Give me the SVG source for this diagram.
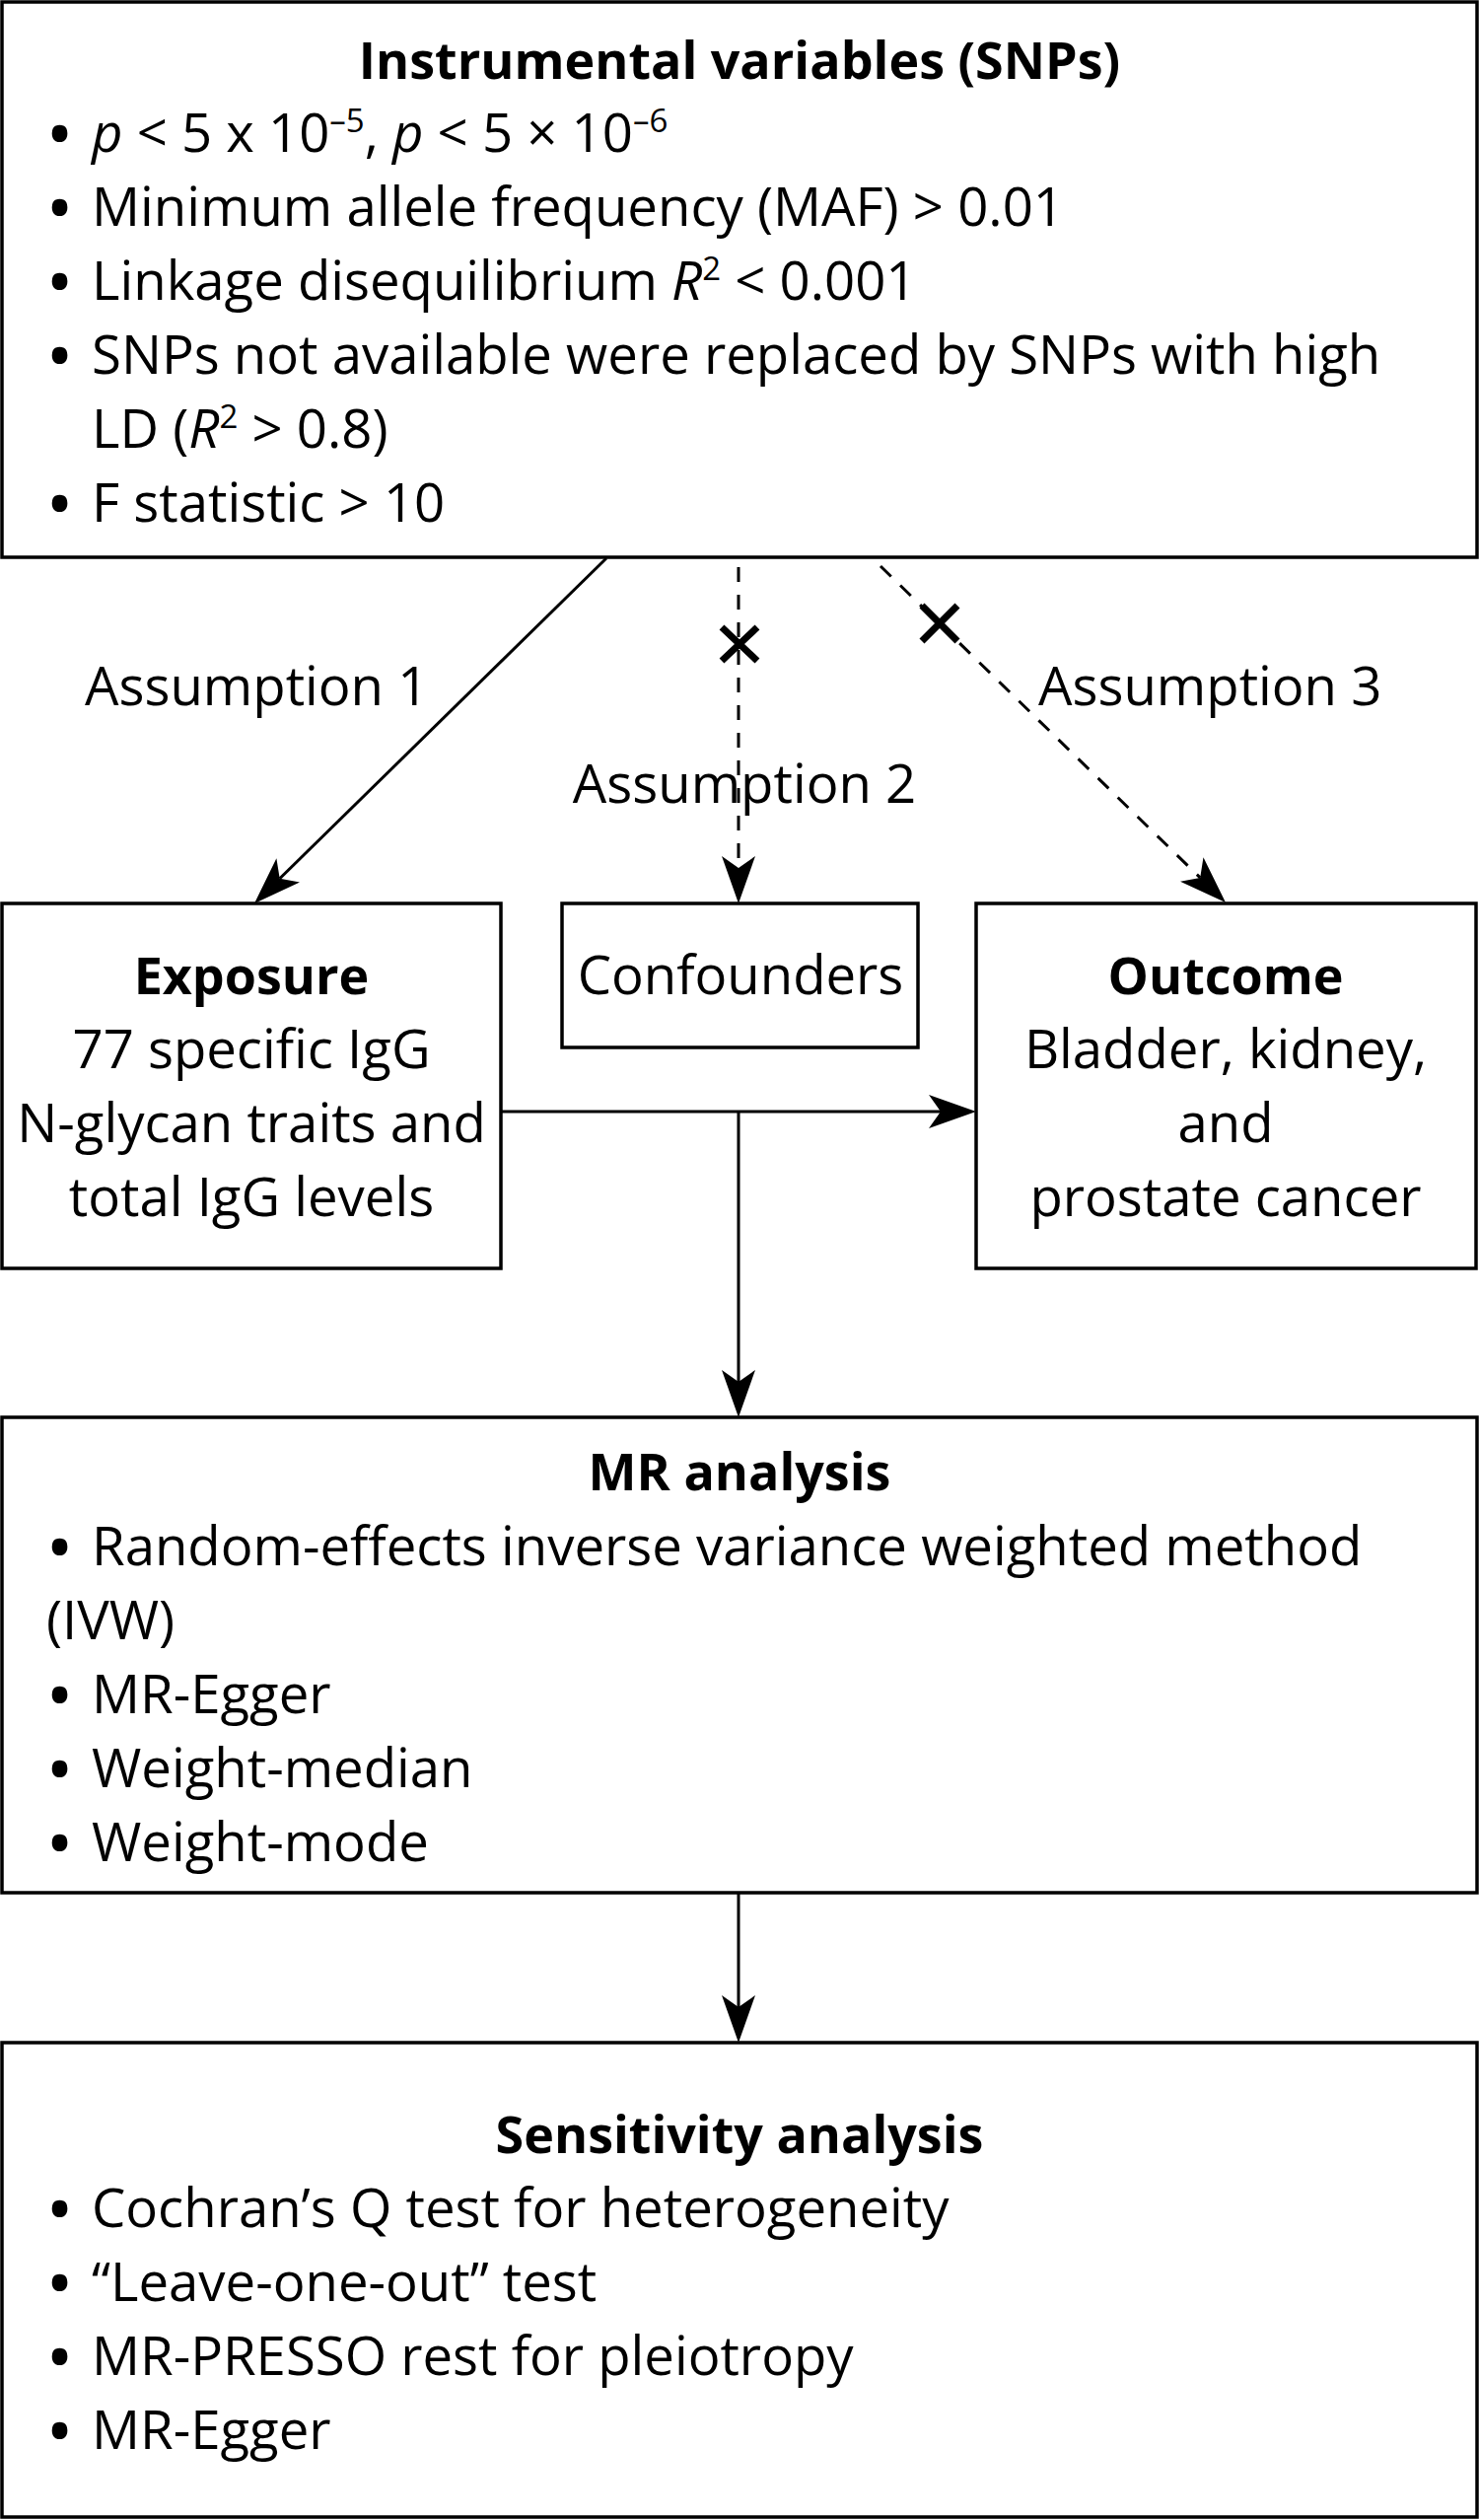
<svg xmlns="http://www.w3.org/2000/svg" width="1500" height="2555" viewBox="0 0 1500 2555">
<style>
.box{fill:#fff;stroke:#000;stroke-width:3.5}
.t{font-family:"Open Sans","Noto Sans","Liberation Sans",sans-serif;font-size:54.5px;fill:#000}
.b{font-weight:bold;font-size:52px}
.c{text-anchor:middle}
.bu{font-family:"Open Sans","Noto Sans","Liberation Sans",sans-serif;font-size:56px;font-weight:bold;fill:#000}
.ln{stroke:#000;stroke-width:3;fill:none}
.dash{stroke-dasharray:15 13}
.x{stroke:#000;stroke-width:7;stroke-linecap:butt}
.sup{font-size:33px}
</style>
<defs>
<marker id="ah" markerUnits="userSpaceOnUse" viewBox="0 0 48 34" refX="12" refY="17" markerWidth="48" markerHeight="34" orient="auto">
<path d="M0,0 L48,17 L0,34 L12,17 Z" fill="#000" stroke="none"/>
</marker>
</defs>
<rect width="1500" height="2555" fill="#fff"/>

<g id="connectors">
<line class="ln" x1="615" y1="566" x2="283.7" y2="890.8" marker-end="url(#ah)"/>
<line class="ln dash" x1="749" y1="575" x2="749" y2="880" marker-end="url(#ah)"/>
<line class="ln dash" x1="893" y1="574" x2="1217.2" y2="889.9" marker-end="url(#ah)"/>
<line class="ln" x1="508" y1="1127" x2="954" y2="1127" marker-end="url(#ah)"/>
<line class="ln" x1="749" y1="1127" x2="749" y2="1401" marker-end="url(#ah)"/>
<line class="ln" x1="749" y1="1919" x2="749" y2="2035" marker-end="url(#ah)"/>
<g id="x-marks">
<line class="x" x1="732" y1="636" x2="768" y2="670"/>
<line class="x" x1="768" y1="636" x2="732" y2="670"/>
<line class="x" x1="935" y1="614" x2="971" y2="650"/>
<line class="x" x1="971" y1="614" x2="935" y2="650"/>
</g>
<text class="t" x="86" y="715">Assumption 1</text>
<text class="t c" x="755" y="814">Assumption 2</text>
<text class="t" x="1053" y="715">Assumption 3</text>
</g>

<g id="instrumental">
<rect class="box" x="2" y="2" width="1496" height="563"/>
<text class="t b c" x="750" y="80">Instrumental variables (SNPs)</text>
<text class="bu" x="50" y="156">•</text>
<text class="t" x="93" y="154"><tspan font-style="italic">p</tspan> &lt; 5 x 10<tspan class="sup" dy="-20">–5</tspan><tspan dy="20">, </tspan><tspan font-style="italic">p</tspan> &lt; 5 × 10<tspan class="sup" dy="-20">–6</tspan></text>
<text class="bu" x="50" y="231">•</text>
<text class="t" x="93" y="229">Minimum allele frequency (MAF) &gt; 0.01</text>
<text class="bu" x="50" y="306">•</text>
<text class="t" x="93" y="304">Linkage disequilibrium <tspan font-style="italic">R</tspan><tspan class="sup" dy="-20">2</tspan><tspan dy="20"> &lt; 0.001</tspan></text>
<text class="bu" x="50" y="381">•</text>
<text class="t" x="93" y="379">SNPs not available were replaced by SNPs with high</text>
<text class="t" x="93" y="454">LD (<tspan font-style="italic">R</tspan><tspan class="sup" dy="-20">2</tspan><tspan dy="20"> &gt; 0.8)</tspan></text>
<text class="bu" x="50" y="531">•</text>
<text class="t" x="93" y="529">F statistic &gt; 10</text>
</g>

<g id="exposure">
<rect class="box" x="2" y="916" width="506" height="370"/>
<text class="t b c" x="255" y="1008">Exposure</text>
<text class="t c" x="255" y="1083">77 specific IgG</text>
<text class="t c" x="255" y="1158">N-glycan traits and</text>
<text class="t c" x="255" y="1233">total IgG levels</text>
</g>

<g id="confounders">
<rect class="box" x="570" y="916" width="361" height="146"/>
<text class="t c" x="751" y="1008">Confounders</text>
</g>

<g id="outcome">
<rect class="box" x="990" y="916" width="507" height="370"/>
<text class="t b c" x="1243" y="1008">Outcome</text>
<text class="t c" x="1243" y="1083">Bladder, kidney,</text>
<text class="t c" x="1243" y="1158">and</text>
<text class="t c" x="1243" y="1233">prostate cancer</text>
</g>

<g id="mr-analysis">
<rect class="box" x="2" y="1437" width="1496" height="482"/>
<text class="t b c" x="750" y="1511">MR analysis</text>
<text class="bu" x="50" y="1589">•</text>
<text class="t" x="93" y="1587">Random-effects inverse variance weighted method</text>
<text class="t" x="47" y="1662">(IVW)</text>
<text class="bu" x="50" y="1739">•</text>
<text class="t" x="93" y="1737">MR-Egger</text>
<text class="bu" x="50" y="1814">•</text>
<text class="t" x="93" y="1812">Weight-median</text>
<text class="bu" x="50" y="1889">•</text>
<text class="t" x="93" y="1887">Weight-mode</text>
</g>

<g id="sensitivity">
<rect class="box" x="2" y="2071" width="1496" height="481"/>
<text class="t b c" x="750" y="2183">Sensitivity analysis</text>
<text class="bu" x="50" y="2260">•</text>
<text class="t" x="93" y="2258">Cochran’s Q test for heterogeneity</text>
<text class="bu" x="50" y="2335">•</text>
<text class="t" x="93" y="2333">“Leave-one-out” test</text>
<text class="bu" x="50" y="2410">•</text>
<text class="t" x="93" y="2408">MR-PRESSO rest for pleiotropy</text>
<text class="bu" x="50" y="2485">•</text>
<text class="t" x="93" y="2483">MR-Egger</text>
</g>
</svg>
